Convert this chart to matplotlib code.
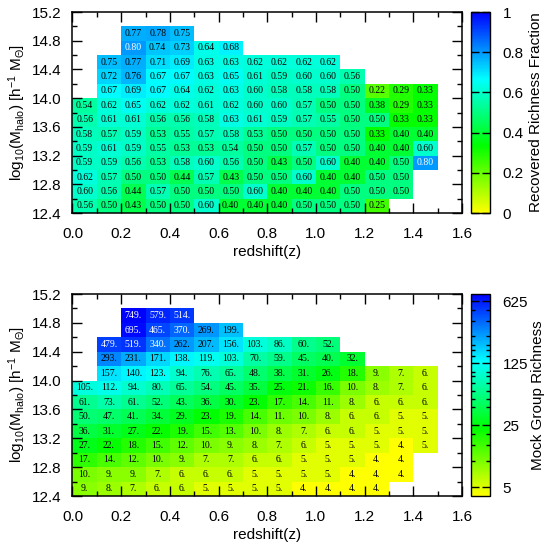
import numpy as np
import matplotlib
matplotlib.use("Agg")
import matplotlib.pyplot as plt
from matplotlib.colors import LinearSegmentedColormap, LogNorm, Normalize
from matplotlib.ticker import FixedLocator, MultipleLocator, FuncFormatter, NullFormatter

# ---------------- data ----------------
z_edges = np.round(np.arange(0.0, 1.61, 0.1), 2)        # redshift bin edges
m_edges = np.round(np.arange(12.4, 15.21, 0.2), 2)      # log10 Mhalo bin edges

# Recovered richness fraction: one list per mass bin (from 12.4 upward), first z-bin index
frac_start = [0, 0, 0, 0, 0, 0, 0, 0, 1, 1, 1, 2, 2]
frac_rows = [
    [0.56, 0.50, 0.43, 0.50, 0.50, 0.60, 0.40, 0.40, 0.40, 0.50, 0.50, 0.50, 0.25],
    [0.60, 0.56, 0.44, 0.57, 0.50, 0.50, 0.50, 0.60, 0.40, 0.40, 0.40, 0.50, 0.50, 0.50],
    [0.62, 0.57, 0.50, 0.50, 0.44, 0.57, 0.43, 0.50, 0.50, 0.60, 0.40, 0.40, 0.50, 0.50],
    [0.59, 0.59, 0.56, 0.53, 0.58, 0.60, 0.56, 0.50, 0.43, 0.50, 0.60, 0.40, 0.40, 0.50, 0.80],
    [0.59, 0.61, 0.59, 0.55, 0.53, 0.53, 0.54, 0.50, 0.50, 0.57, 0.50, 0.50, 0.40, 0.40, 0.60],
    [0.58, 0.57, 0.59, 0.53, 0.55, 0.57, 0.58, 0.53, 0.50, 0.50, 0.50, 0.50, 0.33, 0.40, 0.40],
    [0.56, 0.61, 0.61, 0.56, 0.56, 0.58, 0.63, 0.61, 0.59, 0.57, 0.55, 0.50, 0.50, 0.33, 0.33],
    [0.54, 0.62, 0.65, 0.62, 0.62, 0.61, 0.62, 0.60, 0.60, 0.57, 0.50, 0.50, 0.38, 0.29, 0.33],
    [0.67, 0.69, 0.67, 0.64, 0.62, 0.63, 0.60, 0.58, 0.58, 0.58, 0.50, 0.22, 0.29, 0.33],
    [0.72, 0.76, 0.67, 0.67, 0.63, 0.65, 0.61, 0.59, 0.60, 0.60, 0.56],
    [0.75, 0.77, 0.71, 0.69, 0.63, 0.63, 0.62, 0.62, 0.62, 0.62],
    [0.80, 0.74, 0.73, 0.64, 0.68],
    [0.77, 0.78, 0.75],
]

# Mock group richness
rich_start = [0, 0, 0, 0, 0, 0, 0, 0, 1, 1, 1, 2, 2]
rich_rows = [
    [9, 8, 7, 6, 6, 5, 5, 5, 5, 4, 4, 4, 4],
    [10, 9, 9, 7, 6, 6, 6, 5, 5, 5, 5, 4, 4, 4],
    [17, 14, 12, 10, 9, 7, 7, 6, 6, 5, 5, 5, 4, 4],
    [27, 22, 18, 15, 12, 10, 9, 8, 7, 6, 5, 5, 5, 4, 5],
    [36, 31, 27, 22, 19, 15, 13, 10, 8, 7, 6, 6, 5, 5, 5],
    [50, 47, 41, 34, 29, 23, 19, 14, 11, 10, 8, 6, 6, 5, 5],
    [61, 73, 61, 52, 43, 36, 30, 23, 17, 14, 11, 8, 6, 6, 6],
    [105, 112, 94, 80, 65, 54, 45, 35, 25, 21, 16, 10, 8, 7, 6],
    [157, 140, 123, 94, 76, 65, 48, 38, 31, 26, 18, 9, 7, 6],
    [293, 231, 171, 138, 119, 103, 70, 59, 45, 40, 32],
    [479, 519, 340, 262, 207, 156, 103, 86, 60, 52],
    [695, 465, 370, 269, 199],
    [749, 579, 514],
]

frac_ticks = [0, 0.2, 0.4, 0.6, 0.8, 1.0]
rich_ticks = [5, 25, 125, 625]
x_ticks = [0.0, 0.2, 0.4, 0.6, 0.8, 1.0, 1.2, 1.4, 1.6]
y_ticks = [12.4, 12.8, 13.2, 13.6, 14.0, 14.4, 14.8, 15.2]

# ---------------- style ----------------
plt.rcParams['font.family'] = ['Liberation Sans', 'DejaVu Sans']
plt.rcParams['mathtext.default'] = 'regular'
plt.rcParams['axes.linewidth'] = 1.1

cmap = LinearSegmentedColormap.from_list('ygcb', ['#ffff00', '#00ff00', '#00ffff', '#0000ff'])
cmap.set_bad('white')


def build_grid(rows, starts):
    grid = np.full((len(m_edges) - 1, len(z_edges) - 1), np.nan)
    for i, (row, s) in enumerate(zip(rows, starts)):
        for j, v in enumerate(row):
            grid[i, s + j] = v
    return np.ma.masked_invalid(grid)


fig = plt.figure(figsize=(5.5, 5.51), dpi=100)
ax1 = fig.add_axes([0.1318, 0.6134, 0.7082, 0.3648])
ax2 = fig.add_axes([0.1318, 0.0998, 0.7082, 0.3666])
cax1 = fig.add_axes([0.8564, 0.6134, 0.0345, 0.3648])
cax2 = fig.add_axes([0.8564, 0.0998, 0.0345, 0.3666])

ylabel = r'log$_{10}$(M$_{halo}$) [h$^{-1}$ M$_{\Theta}$]'


def style_axes(ax):
    ax.set_xlim(0, 1.6)
    ax.set_ylim(12.4, 15.2)
    ax.xaxis.set_major_locator(FixedLocator(x_ticks))
    ax.xaxis.set_minor_locator(MultipleLocator(0.1))
    ax.yaxis.set_major_locator(FixedLocator(y_ticks))
    ax.yaxis.set_minor_locator(MultipleLocator(0.2))
    ax.xaxis.set_major_formatter(FuncFormatter(lambda v, p: f"{v:.1f}"))
    ax.yaxis.set_major_formatter(FuncFormatter(lambda v, p: f"{v:.1f}"))
    ax.tick_params(which='both', direction='in', top=True, right=True, labelsize=11, width=1.0)
    ax.tick_params(which='major', length=7)
    ax.tick_params(which='minor', length=3.5)
    ax.tick_params(axis='x', which='major', pad=10)
    ax.tick_params(axis='y', which='major', pad=8)
    ax.set_xlabel('redshift(z)', fontsize=11, labelpad=3)
    ax.set_ylabel(ylabel, fontsize=11, labelpad=3)


# ----- top panel -----
g1 = build_grid(frac_rows, frac_start)
m1 = ax1.pcolormesh(z_edges, m_edges, g1, cmap=cmap, norm=Normalize(0, 1))
for i, (row, s) in enumerate(zip(frac_rows, frac_start)):
    yc = (m_edges[i] + m_edges[i + 1]) / 2
    for j, v in enumerate(row):
        xc = (z_edges[s + j] + z_edges[s + j + 1]) / 2
        ax1.text(xc, yc, f"{v:.2f}", ha='center', va='center', fontsize=7,
                 family='Liberation Serif', color='white' if v >= 0.8 else 'black')
style_axes(ax1)

cb1 = fig.colorbar(m1, cax=cax1)
cb1.set_ticks(frac_ticks)
cb1.set_ticklabels([f"{t:g}" for t in frac_ticks])
cb1.outline.set_linewidth(1.0)
cax1.tick_params(which='both', direction='in', left=True, right=True, labelsize=11,
                 length=6, width=1.0, pad=9)
cax1.minorticks_off()
cb1.set_label('Recovered Richness Fraction', fontsize=11, labelpad=4)

# ----- bottom panel -----
g2 = build_grid(rich_rows, rich_start)
m2 = ax2.pcolormesh(z_edges, m_edges, g2, cmap=cmap, norm=LogNorm(4, 749))
for i, (row, s) in enumerate(zip(rich_rows, rich_start)):
    yc = (m_edges[i] + m_edges[i + 1]) / 2
    for j, v in enumerate(row):
        xc = (z_edges[s + j] + z_edges[s + j + 1]) / 2
        ax2.text(xc, yc, f"{v}.", ha='center', va='center', fontsize=7,
                 family='Liberation Serif', color='white' if v > 300 else 'black')
style_axes(ax2)

cb2 = fig.colorbar(m2, cax=cax2)
cb2.set_ticks(rich_ticks)
cb2.set_ticklabels([str(t) for t in rich_ticks])
cax2.yaxis.set_minor_locator(FixedLocator([10, 15, 20, 40, 50, 60, 75, 90, 100,
                                           150, 175, 200, 250, 375, 500]))
cax2.yaxis.set_minor_formatter(NullFormatter())
cb2.outline.set_linewidth(1.0)
cax2.tick_params(which='both', direction='in', left=True, right=True, labelsize=11, width=1.0, pad=9)
cax2.tick_params(which='major', length=6)
cax2.tick_params(which='minor', length=3)
cb2.set_label('Mock Group Richness', fontsize=11, labelpad=2)

fig.savefig('out.png', dpi=100)
